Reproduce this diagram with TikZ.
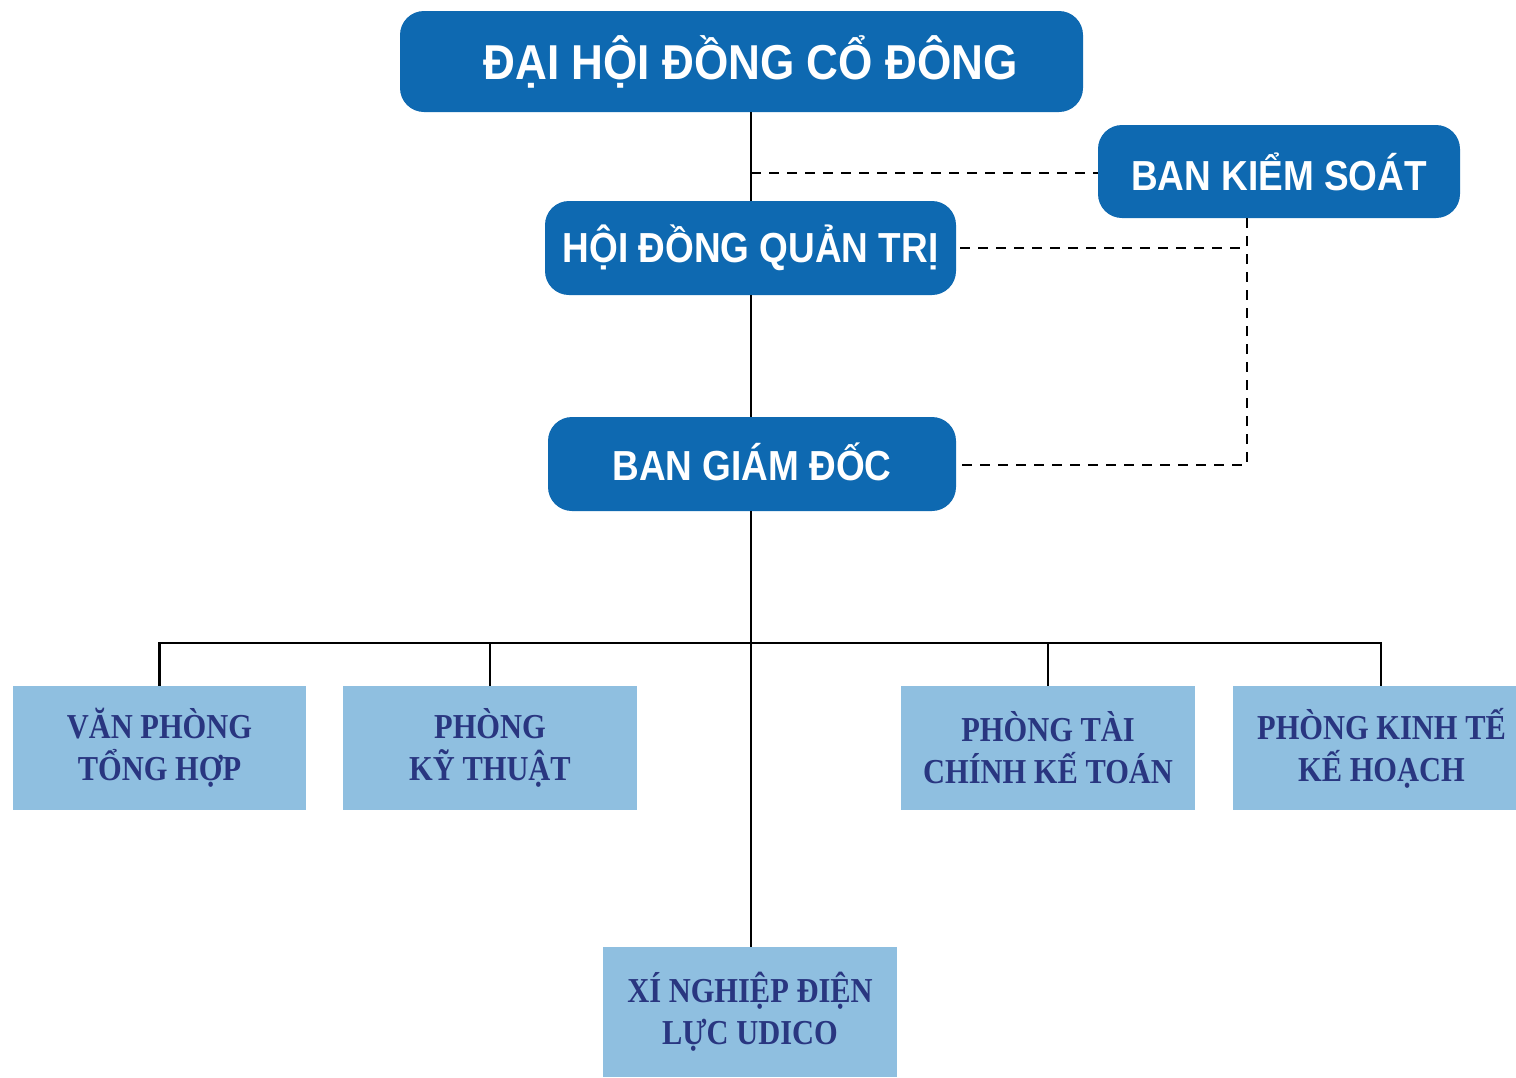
\documentclass[tikz,border=0pt]{standalone}
\usepackage{fontspec}
\newfontfamily\condfont{Liberation Sans}[FakeStretch=0.90]
\newfontfamily\normfont{Liberation Sans}[FakeStretch=0.88]
\newfontfamily\serfont{Liberation Serif}[FakeStretch=0.87]
\definecolor{dblue}{RGB}{14,105,177}
\definecolor{lblue}{RGB}{143,191,224}
\definecolor{navy}{RGB}{41,54,128}
\begin{document}
\begin{tikzpicture}[x=1pt,y=-1pt,
  topbox/.style={draw=none,fill=dblue,rounded corners=24pt,text=white,inner sep=0pt},
  deptbox/.style={draw=none,fill=lblue,text=navy,inner sep=0pt,align=center,
    font=\serfont\bfseries\fontsize{35}{42}\selectfont},
  solidln/.style={draw=black,line width=2.4pt},
  dashln/.style={draw=black,line width=2pt,dash pattern=on 10pt off 8pt}]
\useasboundingbox[fill=white] (0,0) rectangle (1516,1077);
% top boxes
\node[topbox,minimum width=683pt,minimum height=101pt,font=\condfont\bfseries\fontsize{49}{55}\selectfont] (dhdcd) at (741.5,61.5) {\hspace*{18pt}ĐẠI HỘI ĐỒNG CỔ ĐÔNG};
\node[topbox,minimum width=362pt,minimum height=93pt,font=\normfont\bfseries\fontsize{42}{48}\selectfont] (bks) at (1279,171.5) {BAN KIỂM SOÁT};
\node[topbox,minimum width=411pt,minimum height=94pt,font=\normfont\bfseries\fontsize{42}{48}\selectfont] (hdqt) at (750.5,248) {HỘI ĐỒNG QUẢN TRỊ};
\node[topbox,minimum width=408pt,minimum height=94pt,font=\normfont\bfseries\fontsize{42}{48}\selectfont] (bgd) at (752,464) {\raisebox{4pt}{BAN GIÁM ĐỐC}};
% departments
\node[deptbox,minimum width=293pt,minimum height=124pt] (vpth) at (159.5,748) {VĂN PHÒNG\\TỔNG HỢP};
\node[deptbox,minimum width=294pt,minimum height=124pt] (pkt) at (490,748) {PHÒNG\\KỸ THUẬT};
\node[deptbox,minimum width=294pt,minimum height=124pt] (ptckt) at (1048,748) {PHÒNG TÀI\\CHÍNH KẾ TOÁN};
\node[deptbox,minimum width=283pt,minimum height=124pt] (pktkh) at (1374.5,748) {\hspace*{14pt}PHÒNG KINH TẾ\\\hspace*{14pt}KẾ HOẠCH};
\node[deptbox,minimum width=294pt,minimum height=130pt] (xn) at (750,1012) {XÍ NGHIỆP ĐIỆN\\LỰC UDICO};
% coordinates
\coordinate (bar) at (751,643);
\coordinate (dk) at (751,173);
\coordinate (corner) at (1247,465);
% solid connectors
\draw[solidln] (dhdcd.south -| bar) -- (hdqt.north -| bar);
\draw[solidln] (hdqt.south -| bar) -- (bgd.north -| bar);
\draw[solidln] (bgd.south -| bar) -- (xn.north -| bar);
\draw[solidln] (vpth.north) -- (vpth.north |- bar) -- ([xshift=6.5pt]pktkh.north |- bar) -- ([xshift=6.5pt]pktkh.north);
\draw[solidln] (pkt.north) -- (pkt.north |- bar);
\draw[solidln] (ptckt.north) -- (ptckt.north |- bar);
% dashed connectors
\draw[dashln] (dk) -- (bks.west |- dk);
\draw[dashln] (bks.south -| corner) -- (corner) -- (bgd.east |- corner);
\draw[dashln] ([xshift=4pt]hdqt.east) -- (hdqt.east -| corner);
\end{tikzpicture}
\end{document}
